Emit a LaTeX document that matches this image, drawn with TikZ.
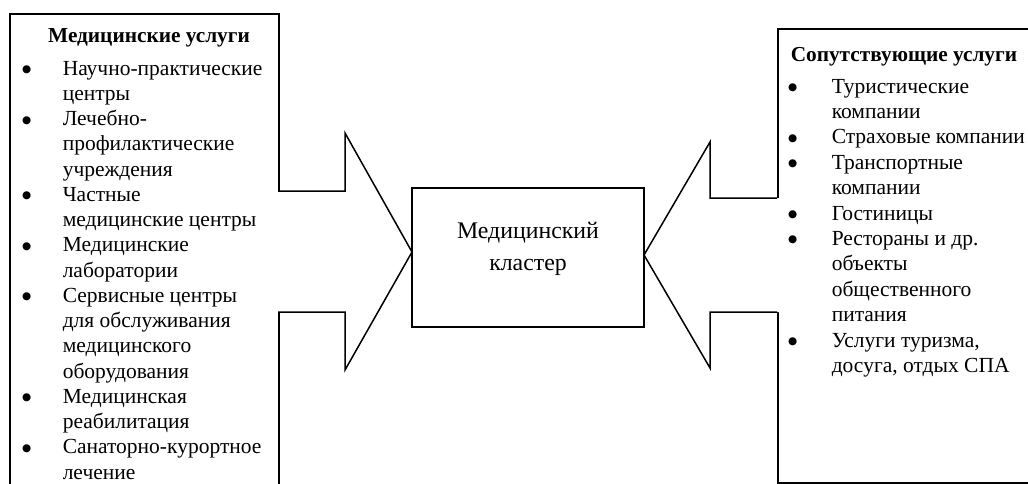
\documentclass[tikz,border=0pt]{standalone}
\usepackage{fontspec}
\setmainfont{Liberation Serif}
\newfontfamily\dejavu{DejaVu Sans}
\newcommand\bulcell[1]{\makebox[#1pt][l]{\makebox[0pt]{\raisebox{2.5pt}{\dejavu\fontsize{10.5}{10.5}\selectfont ●}}}}
\begin{document}
\begin{tikzpicture}[x=1pt,y=-1pt,line width=1.5pt,line join=miter,
  boxshape/.style={draw,inner sep=0pt,anchor=north west},
  listtext/.style={inner sep=0pt,anchor=base west,align=left},
  titletext/.style={inner sep=0pt,font=\fontsize{21.3}{25}\selectfont\bfseries},
  clustertext/.style={inner sep=0pt,anchor=base,align=center,font=\fontsize{23.8}{32}\selectfont}]
\useasboundingbox (0,0) rectangle (1028,483);
\begin{scope}
\clip (0,0) rectangle (1028,483);
% boxes
\node[boxshape,minimum width=269pt,minimum height=500pt] (lbox) at (9,13) {};
\node[boxshape,minimum width=300pt,minimum height=454pt] (rbox) at (777,28) {};
\node[draw,inner sep=0pt,minimum width=232pt,minimum height=139pt] (cluster) at (528,257.5) {};
% arrow points
\coordinate (ltip) at (412,252);
\coordinate (rtip) at (644,255);
% left block arrow
\fill[white] (275,191) -- (345,191) -- (345,133) -- (ltip) -- (345,370) -- (345,312) -- (275,312) -- cycle;
\draw (278,191) -- (345,191) -- (345,133) -- (ltip) -- (345,370) -- (345,312) -- (278,312);
% right block arrow
\fill[white] (780,198) -- (710,198) -- (710,142) -- (rtip) -- (710,368) -- (710,312) -- (780,312) -- cycle;
\draw (777,198) -- (710,198) -- (710,142) -- (rtip) -- (710,368) -- (710,312) -- (777,312);
% texts
\node[titletext,anchor=base] (ltitle) at (149,42) {Медицинские услуги};
\node[listtext,font=\fontsize{21.5}{25.25}\selectfont] (llist) at (26,75) {%
\begin{tabular}[t]{@{}l@{}l@{}}
\bulcell{36} & Научно-практические\\
 & центры\\
\bulcell{36} & Лечебно-\\
 & профилактические\\
 & учреждения\\
\bulcell{36} & Частные\\
 & медицинские центры\\
\bulcell{36} & Медицинские\\
 & лаборатории\\
\bulcell{36} & Сервисные центры\\
 & для обслуживания\\
 & медицинского\\
 & оборудования\\
\bulcell{36} & Медицинская\\
 & реабилитация\\
\bulcell{36} & Санаторно-курортное\\
 & лечение
\end{tabular}};
\node[titletext,anchor=base west] (rtitle) at (790,61) {Сопутствующие услуги};
\node[listtext,font=\fontsize{21.5}{25.4}\selectfont] (rlist) at (792,93) {%
\begin{tabular}[t]{@{}l@{}l@{}}
\bulcell{39} & Туристические\\
 & компании\\
\bulcell{39} & Страховые компании\\
\bulcell{39} & Транспортные\\
 & компании\\
\bulcell{39} & Гостиницы\\
\bulcell{39} & Рестораны и др.\\
 & объекты\\
 & общественного\\
 & питания\\
\bulcell{39} & Услуги туризма,\\
 & досуга, отдых СПА
\end{tabular}};
\node[clustertext] (ctext) at (528,270) {Медицинский\\кластер};
\end{scope}
\end{tikzpicture}
\end{document}
